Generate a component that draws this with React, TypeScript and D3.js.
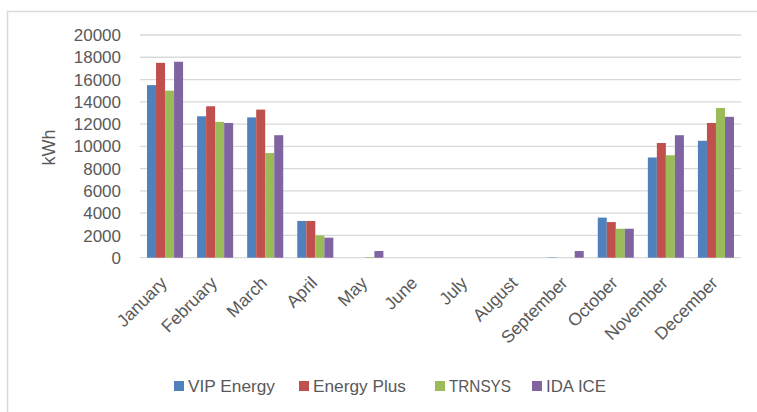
import React from "react";
import * as d3 from "d3";

const months = ["January","February","March","April","May","June","July","August","September","October","November","December"];
const seriesNames = ["VIP Energy","Energy Plus","TRNSYS","IDA ICE"];
const vipEnergy = [15500,12700,12600,3300,0,0,0,0,30,3600,9000,10500];
const energyPlus = [17500,13600,13300,3300,0,0,0,0,0,3200,10300,12100];
const trnsys = [15000,12200,9400,2000,50,0,0,0,0,2600,9200,13450];
const idaIce = [17600,12100,11000,1800,600,0,0,0,600,2600,11000,12650];
const yTicks = [0,2000,4000,6000,8000,10000,12000,14000,16000,18000,20000];
const colors = ["#4F81BD","#C0504D","#9BBB59","#8064A2"];
const legendX = [174, 299, 435, 532];
const legendTextW = [87, 93, 62, 60];

const W = 757, H = 412;
const plotLeft = 140, plotRight = 741, plotTop = 35, plotBottom = 257.7;
const FONT = "'Liberation Sans', Arial, sans-serif";
const TXT = "#595959";

export default function App() {
  const series = [vipEnergy, energyPlus, trnsys, idaIce];
  const x = d3.scaleBand<string>().domain(months).range([plotLeft, plotRight]).paddingInner(0.28).paddingOuter(0.14);
  const xs = d3.scaleBand<number>().domain([0,1,2,3]).range([0, x.bandwidth()]);
  const y = d3.scaleLinear().domain([0, 20000]).range([plotBottom, plotTop]);

  return (
    <svg width={W} height={H} style={{ position: "absolute", left: 0, top: 0, background: "#fff" }}>
      <rect x={0} y={0} width={W} height={H} fill="#fff" />
      <path d={`M7.5,${H} L7.5,11.5 L${W},11.5`} fill="none" stroke="#d9d9d9" strokeWidth={1.5} />
      {yTicks.map(t => (
        <g key={t}>
          <line x1={plotLeft} x2={plotRight} y1={y(t)} y2={y(t)} stroke="#d9d9d9" strokeWidth={1.3} />
          <text x={121} y={y(t)} dy="0.36em" textAnchor="end" fontFamily={FONT} fontSize={17} fill={TXT}>{t}</text>
        </g>
      ))}
      <text transform={`translate(55,147.5) rotate(-90)`} textAnchor="middle" fontFamily={FONT} fontSize={18} fill={TXT}>kWh</text>
      {months.map((m, i) => (
        <g key={m}>
          {series.map((s, j) => (
            <rect key={j} x={(x(m) as number) + (xs(j) as number)} y={y(s[i])} width={xs.bandwidth()} height={plotBottom - y(s[i])} fill={colors[j]} />
          ))}
          <text transform={`translate(${(x(m) as number) + x.bandwidth() / 2 + 3},284) rotate(-45)`} textAnchor="end" fontFamily={FONT} fontSize={17.5} fill={TXT}>{m}</text>
        </g>
      ))}
      {seriesNames.map((n, j) => (
        <g key={n}>
          <rect x={legendX[j]} y={381} width={10} height={10} fill={colors[j]} />
          <text x={legendX[j] + 14} y={392} fontFamily={FONT} fontSize={17} fill={TXT} textLength={legendTextW[j]} lengthAdjust="spacingAndGlyphs">{n}</text>
        </g>
      ))}
    </svg>
  );
}
